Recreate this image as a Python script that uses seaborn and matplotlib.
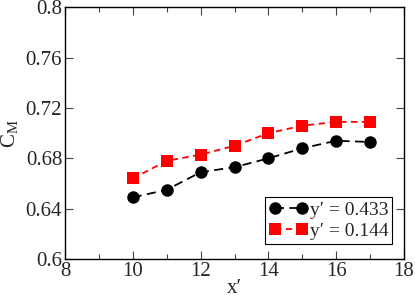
import matplotlib
matplotlib.use("Agg")
import matplotlib.pyplot as plt
import seaborn as sns
import pandas as pd
from matplotlib.ticker import MultipleLocator, FuncFormatter

x_vals = [10, 11, 12, 13, 14, 15, 16, 17]
cm_433 = [0.649, 0.655, 0.669, 0.673, 0.680, 0.688, 0.694, 0.693]
cm_144 = [0.664, 0.678, 0.683, 0.690, 0.700, 0.706, 0.709, 0.709]
labels = ["y\u2032 = 0.433", "y\u2032 = 0.144"]

sns.set_style("ticks")
plt.rcParams["font.family"] = ["Liberation Serif", "DejaVu Serif"]
plt.rcParams["mathtext.fontset"] = "custom"
plt.rcParams["mathtext.rm"] = "Liberation Serif"
plt.rcParams["mathtext.it"] = "Liberation Serif:italic"

fig = plt.figure(figsize=(4.15, 2.96), dpi=100)
ax = fig.add_axes([0.1566, 0.125, 0.817, 0.850])

df1 = pd.DataFrame({"x": x_vals, "y": cm_433})
df2 = pd.DataFrame({"x": x_vals, "y": cm_144})
sns.lineplot(data=df1, x="x", y="y", ax=ax, color="black", marker="o",
             markersize=9, markeredgewidth=0, linestyle=(0, (5, 3)),
             linewidth=1.3, label=labels[0])
sns.lineplot(data=df2, x="x", y="y", ax=ax, color="#ff0000", marker="s",
             markersize=8, markeredgewidth=0, linestyle=(0, (3.5, 2.5)),
             linewidth=1.3, label=labels[1])

ax.set_xlim(8, 18)
ax.set_ylim(0.6, 0.8)
ax.xaxis.set_major_locator(MultipleLocator(2))
ax.xaxis.set_minor_locator(MultipleLocator(1))
ax.yaxis.set_major_locator(MultipleLocator(0.04))
ax.yaxis.set_major_formatter(FuncFormatter(lambda v, p: f"{v:.2f}".rstrip("0") if abs(v*100 - round(v*100)) < 1e-6 else f"{v:g}"))
ax.tick_params(axis="both", which="both", direction="in", top=True, right=True,
               labelsize=15, color="#444444")
ax.tick_params(which="major", length=6, width=0.8, pad=2)
ax.tick_params(which="minor", length=3.5, width=0.8)
for s in ax.spines.values():
    s.set_linewidth(1.0)
    s.set_color("black")

ax.set_xlabel("x\u2032", fontsize=15, labelpad=-1)
ax.set_ylabel("C$_\\mathrm{M}$", fontsize=15, labelpad=4)

leg = ax.legend(loc="lower right", bbox_to_anchor=(0.965, 0.06), fontsize=14,
                frameon=True, fancybox=False, framealpha=1, edgecolor="black",
                numpoints=2, handlelength=2.0, handletextpad=0.1,
                borderpad=0.2, labelspacing=0.2, borderaxespad=0)
leg.get_frame().set_linewidth(0.8)

fig.savefig("out.png", dpi=100)
